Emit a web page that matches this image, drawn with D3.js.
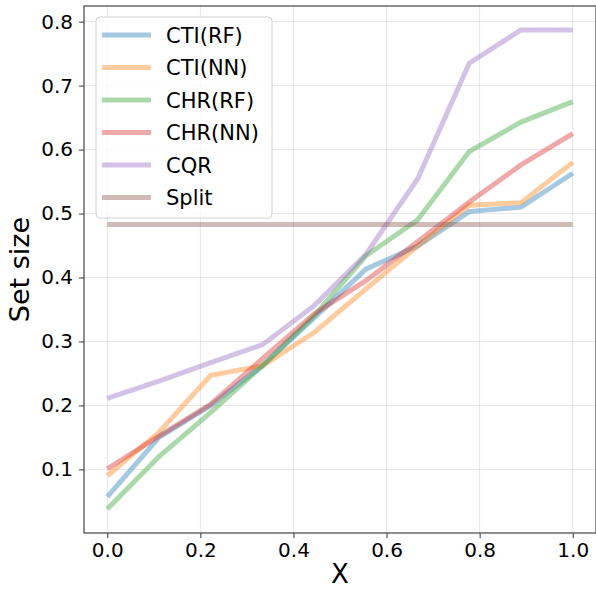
<!DOCTYPE html>
<html lang="en">
<head>
  <meta charset="UTF-8">
  <title>Set size</title>
  <script src="https://d3js.org/d3.v7.min.js"></script>
  <style>
    body { margin: 0; padding: 0; background: #fff; }
    svg { font-family: "DejaVu Sans", sans-serif; display: block; }
  </style>
</head>
<body>
  <div id="chart"></div>
  <script>
    // Data
    const xs = [0, 1/9, 2/9, 3/9, 4/9, 5/9, 6/9, 7/9, 8/9, 1];
    const ctiRF  = [0.057, 0.150, 0.200, 0.262, 0.337, 0.413, 0.449, 0.503, 0.510, 0.563];
    const ctiNN  = [0.090, 0.158, 0.247, 0.262, 0.314, 0.382, 0.449, 0.513, 0.517, 0.580];
    const chrRF  = [0.038, 0.120, 0.189, 0.262, 0.340, 0.434, 0.490, 0.597, 0.643, 0.675];
    const chrNN  = [0.101, 0.152, 0.202, 0.273, 0.343, 0.395, 0.456, 0.518, 0.576, 0.625];
    const cqr    = [0.211, 0.238, 0.267, 0.295, 0.356, 0.436, 0.554, 0.735, 0.787, 0.787];
    const split  = [0.483, 0.483, 0.483, 0.483, 0.483, 0.483, 0.483, 0.483, 0.483, 0.483];
    const names  = ["CTI(RF)", "CTI(NN)", "CHR(RF)", "CHR(NN)", "CQR", "Split"];
    const colors = ["#1f77b4", "#ff7f0e", "#2ca02c", "#d62728", "#9467bd", "#8c564b"];
    const xTicks = [0, 0.2, 0.4, 0.6, 0.8, 1.0];
    const yTicks = [0.1, 0.2, 0.3, 0.4, 0.5, 0.6, 0.7, 0.8];

    const series = [ctiRF, ctiNN, chrRF, chrNN, cqr, split];

    const W = 596, H = 590;
    const m = { left: 84, right: 0, top: 6, bottom: 57 };

    const svg = d3.select("#chart").append("svg")
      .attr("width", W)
      .attr("height", H);

    // matplotlib-like 5% margins
    const allY = series.flat();
    const yMin = d3.min(allY), yMax = d3.max(allY);
    const yPad = (yMax - yMin) * 0.05;

    const x = d3.scaleLinear()
      .domain([-0.05, 1.05])
      .range([m.left, W - m.right]);

    const y = d3.scaleLinear()
      .domain([yMin - yPad, yMax + yPad])
      .range([H - m.bottom, m.top]);

    // grid
    svg.append("g").selectAll("line")
      .data(xTicks)
      .enter().append("line")
      .attr("x1", d => x(d)).attr("x2", d => x(d))
      .attr("y1", m.top).attr("y2", H - m.bottom)
      .attr("stroke", "#b0b0b0").attr("stroke-opacity", 0.3).attr("stroke-width", 1);

    svg.append("g").selectAll("line")
      .data(yTicks)
      .enter().append("line")
      .attr("x1", m.left).attr("x2", W - m.right)
      .attr("y1", d => y(d)).attr("y2", d => y(d))
      .attr("stroke", "#b0b0b0").attr("stroke-opacity", 0.3).attr("stroke-width", 1);

    // lines
    const line = d3.line()
      .x((d, i) => x(xs[i]))
      .y(d => y(d));

    svg.append("g").selectAll("path")
      .data(series)
      .enter().append("path")
      .attr("d", d => line(d))
      .attr("fill", "none")
      .attr("stroke", (d, i) => colors[i])
      .attr("stroke-opacity", 0.4)
      .attr("stroke-width", 5);

    // axes
    const xAxis = svg.append("g")
      .attr("transform", `translate(0,${H - m.bottom})`)
      .call(d3.axisBottom(x).tickValues(xTicks).tickFormat(d3.format(".1f")).tickSize(5).tickPadding(5));

    const yAxis = svg.append("g")
      .attr("transform", `translate(${m.left},0)`)
      .call(d3.axisLeft(y).tickValues(yTicks).tickFormat(d3.format(".1f")).tickSize(5).tickPadding(6));

    [xAxis, yAxis].forEach(g => {
      g.select(".domain").remove();
      g.selectAll(".tick line").attr("stroke", "#333").attr("stroke-width", 1);
      g.selectAll(".tick text").attr("font-size", 20).attr("fill", "#000")
        .attr("font-family", "DejaVu Sans, sans-serif");
    });

    // spines
    svg.append("rect")
      .attr("x", m.left).attr("y", m.top)
      .attr("width", W - m.right - m.left)
      .attr("height", H - m.bottom - m.top)
      .attr("fill", "none")
      .attr("stroke", "#444")
      .attr("stroke-width", 1.2);

    // axis labels
    svg.append("text")
      .attr("x", (m.left + W - m.right) / 2)
      .attr("y", 583)
      .attr("text-anchor", "middle")
      .attr("font-size", 26)
      .text("X");

    svg.append("text")
      .attr("transform", `translate(21,${(m.top + H - m.bottom) / 2}) rotate(-90)`)
      .attr("text-anchor", "middle")
      .attr("dominant-baseline", "middle")
      .attr("font-size", 27)
      .text("Set size");

    // legend
    const legend = svg.append("g").attr("transform", "translate(96,17)");
    legend.append("rect")
      .attr("width", 176).attr("height", 201)
      .attr("rx", 4).attr("ry", 4)
      .attr("fill", "#fff").attr("fill-opacity", 0.8)
      .attr("stroke", "#d0d0d0").attr("stroke-width", 1);

    const items = legend.selectAll(".item")
      .data(names)
      .enter().append("g")
      .attr("class", "item")
      .attr("transform", (d, i) => `translate(0,${18 + i * 32.5})`);

    items.append("line")
      .attr("x1", 6).attr("x2", 55)
      .attr("stroke", (d, i) => colors[i])
      .attr("stroke-opacity", 0.4)
      .attr("stroke-width", 5);

    items.append("text")
      .attr("x", 70)
      .attr("dy", "0.36em")
      .attr("font-size", 21)
      .text(d => d);
  </script>
</body>
</html>
